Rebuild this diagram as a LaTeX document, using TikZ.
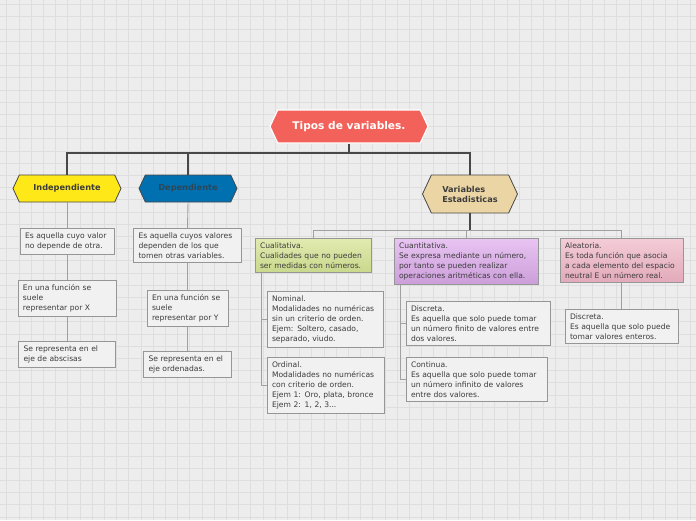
\documentclass[tikz,border=0pt]{standalone}
\usepackage{fontspec}
\setmainfont{DejaVu Sans}
\usepackage{xcolor}
\usepackage{tikz}
\usetikzlibrary{shapes.geometric, shapes.symbols, positioning}
\definecolor{bgGray}{RGB}{237,237,237}
\definecolor{gridGray}{RGB}{222,222,222}
\definecolor{rootRed}{RGB}{242,98,90}
\definecolor{indYellow}{RGB}{255,232,23}
\definecolor{depBlue}{RGB}{0,112,176}
\definecolor{depText}{RGB}{47,70,86}
\definecolor{varTan}{RGB}{236,213,165}
\definecolor{lineDark}{RGB}{72,72,72}
\definecolor{lineLight}{RGB}{160,160,160}
\definecolor{boxBorder}{RGB}{150,150,150}
\definecolor{boxFill}{RGB}{241,241,241}
\definecolor{textGray}{RGB}{60,60,60}
\definecolor{cualTop}{RGB}{226,234,176}
\definecolor{cualBot}{RGB}{200,216,140}
\definecolor{cuanTop}{RGB}{232,196,242}
\definecolor{cuanBot}{RGB}{204,158,218}
\definecolor{aleaTop}{RGB}{243,204,214}
\definecolor{aleaBot}{RGB}{226,170,186}

\begin{document}
\begin{tikzpicture}[x=1pt, y=-1pt,
  hexa/.style={signal, signal to=west and east, signal pointer angle=130,
               draw=lineDark, line width=0.8pt, inner sep=0pt,
               font=\fontsize{8.2}{10}\selectfont\bfseries, text=textGray, align=left},
  note/.style={rectangle, draw=boxBorder, fill=boxFill, line width=0.8pt,
               inner xsep=5pt, inner ysep=4.3pt, align=left, anchor=north,
               font=\fontsize{7.6}{10}\selectfont, text=textGray},
  trunk/.style={draw=lineDark, line width=1.1pt},
  branch/.style={draw=lineLight, line width=0.9pt}
]
\useasboundingbox (0,0) rectangle (696,520);
% grid paper
\fill[bgGray] (0,0) rectangle (696,520);
\foreach \gx in {0,...,56} \draw[gridGray, line width=0.7pt] ({6.8+12.2*\gx},0) -- ++(0,520);
\foreach \gy in {0,...,42} \draw[gridGray, line width=0.7pt] (0,{4.5+12.2*\gy}) -- ++(696,0);

% root
\node[hexa, fill=rootRed, draw=white, line width=1.2pt, text=white,
      font=\fontsize{10.6}{12}\selectfont\bfseries,
      minimum width=158pt, minimum height=33pt] (root) at (349,126.5) {Tipos de variables.};

% main topics
\node[hexa, fill=indYellow, minimum width=108pt, minimum height=27pt] (indep) at (67,188.5) {Independiente};
\node[hexa, fill=depBlue, text=depText, minimum width=98pt, minimum height=27pt] (dep) at (188,188.5) {Dependiente};
\node[hexa, fill=varTan, minimum width=95pt, minimum height=38pt] (vars) at (470,194) {Variables\\Estadisticas};

\coordinate (bar) at (349,153);
\draw[trunk] (root.south) -- (bar);
\draw[trunk] (bar) -| (indep.north);
\draw[trunk] (bar) -| (dep.north);
\draw[trunk] (bar) -| (vars.north);

% Independiente
\node[note, text width=84pt] (ind1) at (67,228) {Es aquella cuyo valor\\no depende de otra.};
\node[note, text width=88pt] (ind2) at (67,280) {En una función se\\suele\\representar por X};
\node[note, text width=87pt] (ind3) at (67,341) {Se representa en el\\eje de abscisas};
\draw[branch] (indep.south) -- (ind1.north);
\draw[branch] (ind1.south) -- (ind2.north);
\draw[branch] (ind2.south) -- (ind3.north);

% Dependiente
\node[note, text width=98pt] (dep1) at (187.5,228) {Es aquella cuyos valores\\dependen de los que\\tomen otras variables.};
\node[note, text width=71pt] (dep2) at (187.5,290) {En una función se\\suele\\representar por Y};
\node[note, text width=78pt] (dep3) at (187.5,351) {Se representa en el\\eje ordenadas.};
\draw[branch] (dep.south) -- (dep1.north);
\draw[branch] (dep1.south) -- (dep2.north);
\draw[branch] (dep2.south) -- (dep3.north);

% Variables Estadisticas
\node[note, text width=106pt, top color=cualTop, bottom color=cualBot] (cual) at (313,238)
  {Cualitativa.\\Cualidades que no pueden\\ser medidas con números.};
\node[note, text width=134pt, top color=cuanTop, bottom color=cuanBot] (cuan) at (466,238)
  {Cuantitativa.\\Se expresa mediante un número,\\por tanto se pueden realizar\\operaciones aritméticas con ella.};
\node[note, text width=113pt, top color=aleaTop, bottom color=aleaBot] (alea) at (621.5,238)
  {Aleatoria.\\Es toda función que asocia\\a cada elemento del espacio\\neutral E un número real.};

\coordinate (vbar) at (470,230);
\draw[trunk] (vars.south) -- (vbar);
\draw[branch] (vbar) -| (cual.north);
\draw[branch] (vbar) -| (cuan.north);
\draw[branch] (vbar) -| (alea.north);

% Cualitativa
\node[note, text width=106pt] (nominal) at (325,291)
  {Nominal.\\Modalidades no numéricas\\sin un criterio de orden.\\Ejem: Soltero, casado,\\separado, viudo.};
\node[note, text width=107pt] (ordinal) at (325.5,357)
  {Ordinal.\\Modalidades no numéricas\\con criterio de orden.\\Ejem 1: Oro, plata, bronce\\Ejem 2: 1, 2, 3...};
\draw[branch] ([xshift=7pt]cual.south west) |- (nominal.west);
\draw[branch] ([xshift=7pt]cual.south west) |- (ordinal.west);

% Cuantitativa
\node[note, text width=134pt] (discreta) at (478,301)
  {Discreta.\\Es aquella que solo puede tomar\\un número finito de valores entre\\dos valores.};
\node[note, text width=131pt] (continua) at (476.5,357)
  {Continua.\\Es aquella que solo puede tomar\\un número infinito de valores\\entre dos valores.};
\draw[branch] ([xshift=7pt]cuan.south west) |- (discreta.west);
\draw[branch] ([xshift=7pt]cuan.south west) |- (continua.west);

% Aleatoria
\node[note, text width=103pt] (discent) at (621.5,309)
  {Discreta.\\Es aquella que solo puede\\tomar valores enteros.};
\draw[branch] (alea.south) -- (discent.north);

\end{tikzpicture}
\end{document}
